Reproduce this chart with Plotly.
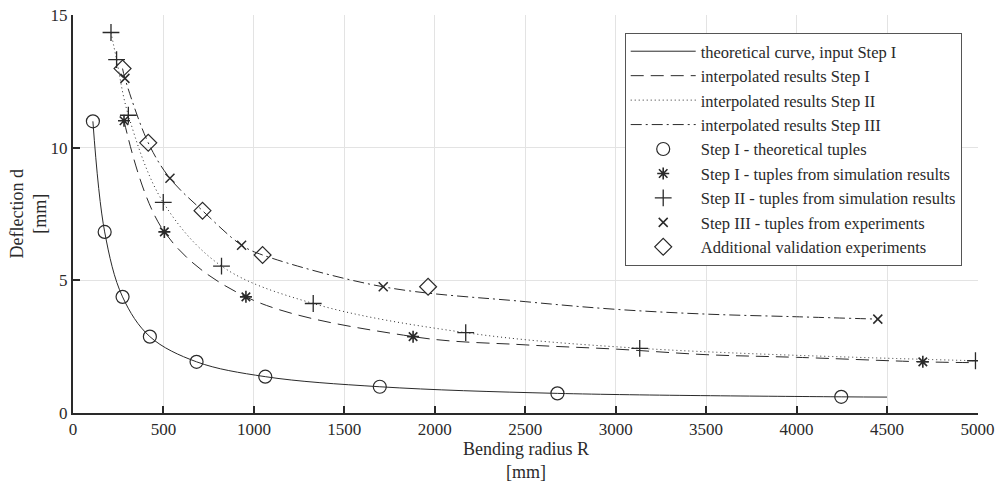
import plotly.graph_objects as go

# ---- data ----
# Step I theoretical tuples (circles)
theo_R = [110, 175, 274, 425, 683, 1063, 1696, 2678, 4247]
theo_d = [11.0, 6.83, 4.38, 2.88, 1.93, 1.37, 0.99, 0.74, 0.61]
# theoretical curve (solid)
theo_curve_R = [110, 175, 274, 425, 683, 1063, 1696, 2678, 4247, 4500]
theo_curve_d = [11.0, 6.83, 4.38, 2.88, 1.93, 1.37, 0.99, 0.74, 0.61, 0.60]

# Step I tuples from simulation results (asterisks)
s1_R = [282, 505, 956, 1880, 4698]
s1_d = [11.02, 6.83, 4.38, 2.88, 1.93]
# interpolated Step I (dashed)
s1_curve_R = [282, 505, 956, 1880, 2500, 3000, 3500, 4000, 4698, 4960]
s1_curve_d = [11.02, 6.83, 4.38, 2.88, 2.57, 2.41, 2.20, 2.10, 1.93, 1.90]

# Step II tuples from simulation results (plus)
s2_R = [210, 241, 306, 499, 821, 1328, 2171, 3133, 4989]
s2_d = [14.35, 13.33, 11.23, 7.94, 5.54, 4.13, 3.03, 2.44, 1.97]

# Step III tuples from experiments (x)
s3_R = [287, 536, 932, 1715, 4449]
s3_d = [12.62, 8.85, 6.33, 4.76, 3.54]
# interpolated Step III (dash-dot)
s3_curve_R = [274, 287, 416, 536, 716, 932, 1048, 1715, 2500, 3000, 3500, 4000, 4449]
s3_curve_d = [12.99, 12.62, 10.19, 8.85, 7.63, 6.33, 5.96, 4.76, 4.20, 3.91, 3.73, 3.63, 3.54]

# Additional validation experiments (diamonds)
val_R = [274, 416, 716, 1048, 1963]
val_d = [12.99, 10.19, 7.63, 5.96, 4.76]

x_ticks = [0, 500, 1000, 1500, 2000, 2500, 3000, 3500, 4000, 4500, 5000]
y_ticks = [0, 5, 10, 15]

INK = "#2a2a2a"
FONT = "Liberation Serif"

fig = go.Figure()

fig.add_trace(go.Scatter(x=theo_curve_R, y=theo_curve_d, mode="lines",
                         line=dict(color=INK, width=1, shape="spline", smoothing=1.0),
                         name="theoretical curve, input Step I"))
fig.add_trace(go.Scatter(x=s1_curve_R, y=s1_curve_d, mode="lines",
                         line=dict(color=INK, width=1, dash="13px,7px", shape="spline", smoothing=1.0),
                         name="interpolated results Step I"))
fig.add_trace(go.Scatter(x=s2_R, y=s2_d, mode="lines",
                         line=dict(color=INK, width=1, dash="1px,3px", shape="spline", smoothing=1.0),
                         name="interpolated results Step II"))
fig.add_trace(go.Scatter(x=s3_curve_R, y=s3_curve_d, mode="lines",
                         line=dict(color=INK, width=1, dash="11px,4px,2px,4px", shape="spline", smoothing=1.0),
                         name="interpolated results Step III"))

fig.add_trace(go.Scatter(x=theo_R, y=theo_d, mode="markers",
                         marker=dict(symbol="circle-open", size=13, color=INK, line=dict(width=1.2)),
                         name="Step I - theoretical tuples"))
fig.add_trace(go.Scatter(x=s1_R, y=s1_d, mode="markers",
                         marker=dict(symbol="asterisk-open", size=10, color=INK, line=dict(width=1.6, color=INK)),
                         name="Step I - tuples from simulation results"))
fig.add_trace(go.Scatter(x=s2_R, y=s2_d, mode="markers",
                         marker=dict(symbol="cross-thin-open", size=12, color=INK, line=dict(width=1.3, color=INK)),
                         name="Step II - tuples from simulation results"))
fig.add_trace(go.Scatter(x=s3_R, y=s3_d, mode="markers",
                         marker=dict(symbol="x-thin-open", size=9, color=INK, line=dict(width=1.5, color=INK)),
                         name="Step III - tuples from experiments"))
fig.add_trace(go.Scatter(x=val_R, y=val_d, mode="markers",
                         marker=dict(symbol="diamond-open", size=13, color=INK, line=dict(width=1.2)),
                         name="Additional validation experiments"))

fig.update_layout(
    width=1000, height=484,
    margin=dict(l=73, r=22, t=15, b=71, autoexpand=False),
    paper_bgcolor="white", plot_bgcolor="white",
    font=dict(family=FONT, size=17, color=INK),
    showlegend=True,
    legend=dict(x=0.982, y=0.9548, xanchor="right", yanchor="top",
                bgcolor="white", bordercolor="#555", borderwidth=1,
                font=dict(family=FONT, size=16.5, color=INK),
                itemwidth=65, tracegroupgap=0, itemsizing="trace"),
    xaxis=dict(range=[0, 5003], tickvals=x_ticks, ticktext=[str(v) for v in x_ticks],
               showgrid=True, gridcolor="#e3e3e3", gridwidth=1, zeroline=False,
               showline=True, linecolor=INK, linewidth=2, ticks="inside", ticklen=7,
               tickwidth=2, tickcolor=INK, mirror=False, automargin=False,
               ticklabeloverflow="allow",
               tickfont=dict(family=FONT, size=17, color=INK)),
    yaxis=dict(range=[0, 15.01], tickvals=y_ticks, ticktext=[str(v) for v in y_ticks],
               showgrid=True, gridcolor="#e3e3e3", gridwidth=1, zeroline=False,
               showline=True, linecolor=INK, linewidth=2, ticks="inside", ticklen=7,
               tickwidth=2, tickcolor=INK, mirror=False, automargin=False,
               ticklabeloverflow="allow",
               tickfont=dict(family=FONT, size=17, color=INK)),
    annotations=[
        dict(text="Bending radius R<br>[mm]", xref="paper", yref="paper",
             x=0.5, y=0, yshift=-24, xanchor="center", yanchor="top",
             showarrow=False, font=dict(family=FONT, size=18, color=INK)),
        dict(text="Deflection d<br>[mm]", xref="paper", yref="paper",
             x=0, y=0.5, xshift=-22, xanchor="right", yanchor="middle",
             textangle=-90, showarrow=False, font=dict(family=FONT, size=18, color=INK)),
    ],
)

# remove the default 8px page margin so the 1000x484 figure fills the window exactly
fig.write_html("out.html", config={"displayModeBar": False},
               post_script="document.body.style.margin='0';")
